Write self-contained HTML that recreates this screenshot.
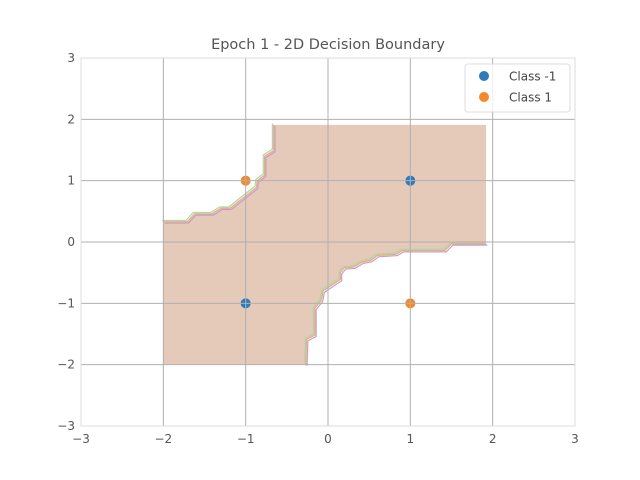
<!DOCTYPE html>
<html><head><meta charset="utf-8"><style>
body{margin:0;background:#fff}
svg{display:block;font-family:"DejaVu Sans","Liberation Sans",sans-serif}
</style></head><body>
<svg id="chart" width="640" height="480">
<rect width="640" height="480" fill="#fff"/>
<text x="328" y="49" text-anchor="middle" font-size="14.5" fill="#555">Epoch 1 - 2D Decision Boundary</text>
<g id="plot"></g>
</svg>
<script>
const ticks=[-3,-2,-1,0,1,2,3];
const tickLabels=["−3","−2","−1","0","1","2","3"];
const region={x0:-2,x1:1.92,y0:-2.0,y1:1.91};
const upperX=[-2.0,-1.71,-1.62,-1.41,-1.30,-1.19,-0.87,-0.86,-0.77,-0.77,-0.66,-0.66];
const upperY=[0.33,0.33,0.46,0.46,0.55,0.55,0.89,1.0,1.09,1.40,1.49,1.91];
const lowerX=[1.92,1.50,1.42,0.90,0.83,0.60,0.52,0.41,0.31,0.20,0.15,0.15,-0.06,-0.08,-0.16,-0.16,-0.26,-0.27];
const lowerY=[-0.03,-0.03,-0.14,-0.14,-0.20,-0.22,-0.30,-0.33,-0.41,-0.42,-0.50,-0.61,-0.80,-0.95,-1.08,-1.52,-1.59,-2.0];
const ptX=[-1,1,-1,1];
const ptY=[-1,1,1,-1];
const ptClass=[-1,-1,1,1];
const X=v=>328+v*82.33, Y=v=>242-v*61.33;
const NS="http://www.w3.org/2000/svg";
const g=document.getElementById('plot');
function mk(t,a){const e=document.createElementNS(NS,t);for(const k in a)e.setAttribute(k,a[k]);g.appendChild(e);return e;}
let pts=[[region.x0,region.y0]];
upperX.forEach((x,i)=>pts.push([x,upperY[i]]));
pts.push([region.x1,region.y1]);
lowerX.forEach((x,i)=>pts.push([x,lowerY[i]]));
const fill=mk('polygon',{points:pts.map(p=>X(p[0])+','+Y(p[1])).join(' '),fill:'#e5c9b9'});


const cols=['#a8dca0','#f0a880','#c0a0d0'];
[[upperX,upperY],[lowerX,lowerY]].forEach((c,ci)=>{
 cols.forEach((col,k)=>{
  const off=(k-1)*1.3;
  const l=mk('polyline',{points:c[0].map((x,i)=>(X(x)+off)+','+(Y(c[1][i])+off)).join(' '),fill:'none',stroke:col,'stroke-width':1.2});
  
  
 });
});
ptX.forEach((x,i)=>{
 const c=mk('circle',{cx:X(x),cy:Y(ptY[i]),r:5,fill:ptClass[i]<0?'#2f7bb8':'#f5892a'});
 
 
});
ticks.forEach((t,i)=>{
 const a=mk('line',{x1:X(t),x2:X(t),y1:Y(3),y2:Y(-3),stroke:'#b0b0b0','stroke-width':1});
 
 
 const b=mk('line',{x1:X(-3),x2:X(3),y1:Y(t),y2:Y(t),stroke:'#b0b0b0','stroke-width':1});
 
 
 const tx=mk('text',{x:X(t),y:Y(-3)+17,'text-anchor':'middle','font-size':12,fill:'#555'});
 tx.textContent=tickLabels[i];
 
 
 const ty=mk('text',{x:X(-3)-6,y:Y(t)+4,'text-anchor':'end','font-size':12,fill:'#555'});
 ty.textContent=tickLabels[i];
 
 
});
const fr=mk('rect',{x:X(-3),y:Y(3),width:X(3)-X(-3),height:Y(-3)-Y(3),fill:'none',stroke:'#ddd','stroke-width':1});


const lg=mk('rect',{x:465,y:64,width:105,height:48,rx:3,fill:'rgba(255,255,255,0.8)',stroke:'#ddd'});


[['Class -1','#2f7bb8',76],['Class 1','#f5892a',97]].forEach(e=>{
 const c=mk('circle',{cx:484,cy:e[2],r:5,fill:e[1]});
 
 
 const t=mk('text',{x:509,y:e[2]+4.5,'font-size':12,fill:'#444'});
 t.textContent=e[0];
 
 
});
</script>
</body></html>
